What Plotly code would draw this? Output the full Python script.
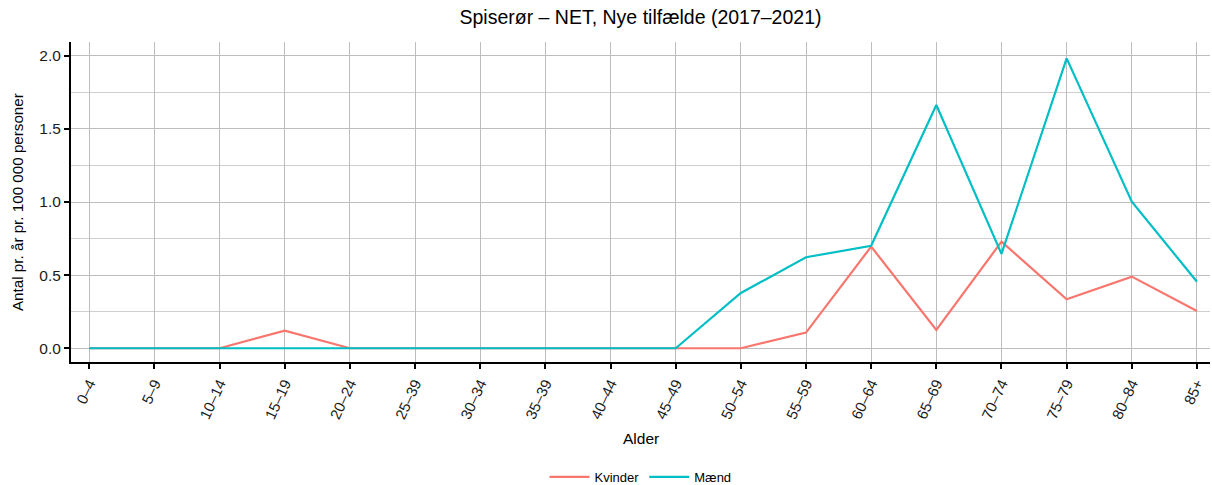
import plotly.graph_objects as go

categories = ["0\u20134", "5\u20139", "10\u201314", "15\u201319", "20\u201324", "25\u201339", "30\u201334",
              "35\u201339", "40\u201344", "45\u201349", "50\u201354", "55\u201359", "60\u201364", "65\u201369",
              "70\u201374", "75\u201379", "80\u201384", "85+"]
kvinder = [0, 0, 0, 0.12, 0, 0, 0, 0, 0, 0, 0, 0.107, 0.695, 0.125, 0.729, 0.335, 0.49, 0.255]
maend = [0, 0, 0, 0, 0, 0, 0, 0, 0, 0, 0.378, 0.622, 0.701, 1.663, 0.645, 1.982, 1.002, 0.455]

fig = go.Figure()
fig.add_trace(go.Scatter(x=categories, y=kvinder, mode="lines", name="Kvinder",
                         line=dict(color="#F8766D", width=2.2)))
fig.add_trace(go.Scatter(x=categories, y=maend, mode="lines", name="M\u00e6nd",
                         line=dict(color="#00BFC4", width=2.2)))

fig.update_layout(
    width=1212, height=485,
    margin=dict(l=71, r=2, t=42, b=123),
    paper_bgcolor="white", plot_bgcolor="white",
    font=dict(family="Liberation Sans, Arial, sans-serif", color="black"),
    title=dict(text="Spiser\u00f8r \u2013 NET, Nye tilf\u00e6lde (2017\u20132021)", x=0.5, xanchor="center",
               xref="paper", y=1 - 17 / 485, yanchor="middle", font=dict(size=19.5)),
    showlegend=True,
    legend=dict(orientation="h", x=0.5, xanchor="center", yref="container", y=1 - 477 / 485,
                yanchor="middle", font=dict(size=13), itemwidth=40, tracegroupgap=0),
    xaxis=dict(
        automargin=False,
        type="category", range=[-0.28, 17.2],
        tickangle=-65, tickfont=dict(size=15, color="#1a1a1a"),
        showgrid=True, gridcolor="#bdbdbd", gridwidth=1,
        showline=True, linecolor="black", linewidth=2,
        ticks="outside", tickcolor="black", ticklen=5, tickwidth=2,
        zeroline=False,
    ),
    yaxis=dict(
        automargin=False,
        range=[-0.094, 2.094],
        tickvals=[0, 0.5, 1.0, 1.5, 2.0], ticktext=["0.0", "0.5", "1.0", "1.5", "2.0"],
        tickfont=dict(size=15.5, color="#1a1a1a"),
        showgrid=True, gridcolor="#bdbdbd", gridwidth=1,
        minor=dict(tickvals=[0.25, 0.75, 1.25, 1.75], showgrid=True, gridcolor="#cfcfcf", gridwidth=1),
        showline=True, linecolor="black", linewidth=2,
        ticks="outside", tickcolor="black", ticklen=5, tickwidth=2,
        zeroline=False,
    ),
    annotations=[
        dict(text="Alder", xref="paper", yref="paper", x=0.5, y=-0.2375,
             xanchor="center", yanchor="middle", showarrow=False, font=dict(size=15.5)),
        dict(text="Antal pr. \u00e5r pr. 100 000 personer", xref="paper", yref="paper",
             x=-0.0474, y=0.5, xanchor="center", yanchor="middle", textangle=-90,
             showarrow=False, font=dict(size=15.2)),
    ],
)

fig.write_html("out.html", config={"displayModeBar": False},
               post_script="document.body.style.margin='0';document.body.style.overflow='hidden';")
